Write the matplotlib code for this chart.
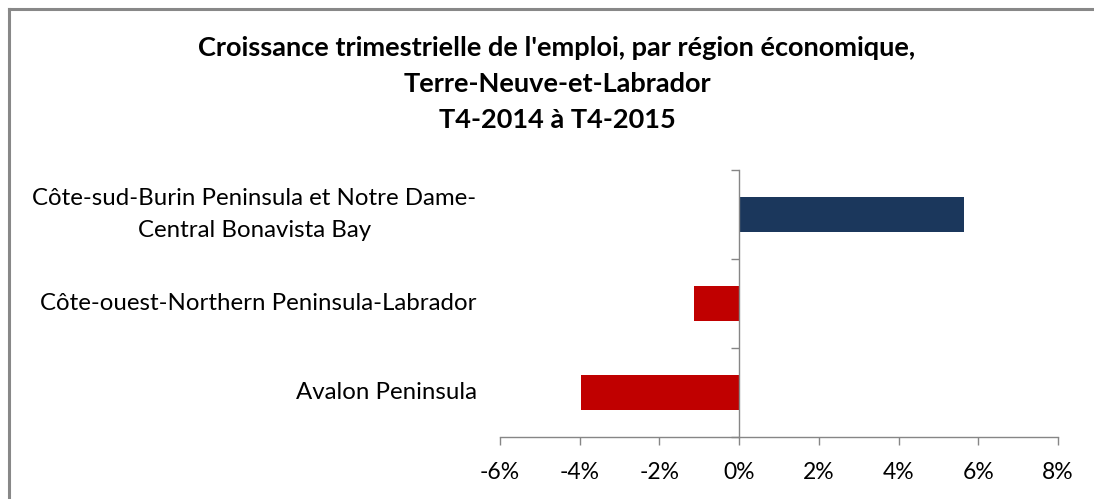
import matplotlib
matplotlib.use("Agg")
import matplotlib.pyplot as plt
from matplotlib.lines import Line2D
from matplotlib.ticker import FuncFormatter

categories = ["Avalon Peninsula",
              "Côte-ouest-Northern Peninsula-Labrador",
              "Côte-sud-Burin Peninsula et Notre Dame-\nCentral Bonavista Bay"]
values = [-3.97, -1.13, 5.65]
colors = ["#C00000", "#C00000", "#1B375C"]
xticks = [-6, -4, -2, 0, 2, 4, 6, 8]
title = "Croissance trimestrielle de l'emploi, par région économique,\nTerre-Neuve-et-Labrador\nT4-2014 à T4-2015"

plt.rcParams['font.family'] = ['Lato', 'DejaVu Sans']
axis_gray = "#868686"

fig = plt.figure(figsize=(10.94, 4.99), dpi=100)
ax = fig.add_axes([500/1094, 1-437/499, 558/1094, 267/499])

ypos = list(range(len(categories)))
ax.barh(ypos, values, height=0.4, color=colors)
ax.set_xlim(xticks[0], xticks[-1])
ax.set_ylim(-0.5, len(categories)-0.5)

for s in ['top', 'right']:
    ax.spines[s].set_visible(False)
ax.spines['left'].set_position(('data', 0))
ax.spines['left'].set_color(axis_gray)
ax.spines['bottom'].set_color(axis_gray)
ax.spines['left'].set_linewidth(1.0)
ax.spines['bottom'].set_linewidth(1.0)

ax.set_xticks(xticks)
ax.xaxis.set_major_formatter(FuncFormatter(lambda v, p: f"{v:.0f}%"))
ax.tick_params(axis='x', direction='out', length=6, width=1.0, color=axis_gray,
               labelsize=16.5, pad=12, labelcolor="#000000")
bounds = [i - 0.5 for i in range(len(categories)+1)]
ax.set_yticks(bounds)
ax.set_yticklabels([])
ax.tick_params(axis='y', direction='out', length=6, width=1.0, color=axis_gray)

for y, c in zip(ypos, categories):
    ax.text(-0.042, y, c, transform=ax.get_yaxis_transform(), ha='right', va='center',
            multialignment='center', fontsize=17.3, color="#000000", linespacing=1.7)

fig.text(557/1094, 1-84/499, title, ha='center', va='center', fontsize=19.5,
         fontweight='bold', linespacing=1.6, color="#000000")

# chart border (top and left visible)
fig.add_artist(Line2D([8.5/1094, 8.5/1094], [0, 1-8.5/499], transform=fig.transFigure,
                      color="#888888", lw=2.2))
fig.add_artist(Line2D([8.5/1094, 1], [1-8.5/499, 1-8.5/499], transform=fig.transFigure,
                      color="#888888", lw=2.2))

fig.savefig("out.png", dpi=100)
